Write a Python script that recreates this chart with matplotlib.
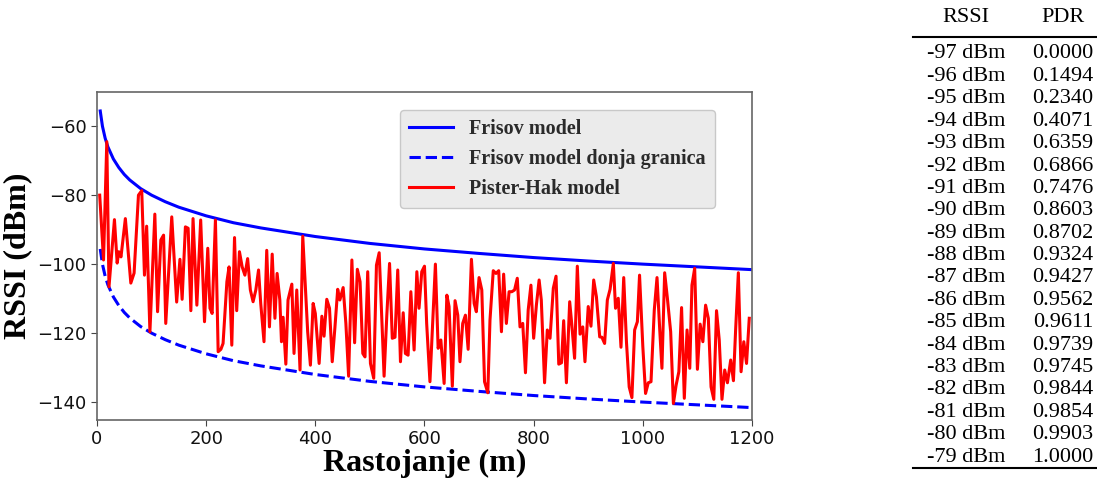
import numpy as np
import matplotlib
matplotlib.use("Agg")
import matplotlib.pyplot as plt

# Friis model
friis_dist = [6, 10, 15, 20, 30, 40, 50, 60, 80, 100, 125, 150, 200, 250, 300,
              400, 500, 600, 700, 800, 900, 1000, 1100, 1200]
friis_rssi = [-55.6, -60.0, -63.5, -66.0, -69.5, -72.0, -74.0, -75.6, -78.1, -80.0,
              -81.9, -83.5, -86.0, -88.0, -89.5, -92.0, -94.0, -95.6, -96.9, -98.1,
              -99.1, -100.0, -100.8, -101.6]
friis_low = [-95.6, -100.0, -103.5, -106.0, -109.5, -112.0, -114.0, -115.6, -118.1, -120.0,
             -121.9, -123.5, -126.0, -128.0, -129.5, -132.0, -134.0, -135.6, -136.9, -138.1,
             -139.1, -140.0, -140.8, -141.6]

# Pister-Hack model (noisy)
ph_dist = [5, 12, 18, 22, 32, 37, 40, 44, 52, 62, 68, 76, 82, 87, 91, 97, 106, 111, 117, 122,
           126, 137, 146, 152, 156, 162, 167, 172, 176, 183, 190, 197,
           203, 207, 211, 217, 222, 227, 231, 238, 242, 247, 252, 256, 261, 266, 271, 276,
           281, 286, 291, 296, 300, 306, 311, 316, 321, 326, 330, 335, 338, 341, 346, 350,
           357, 361, 366, 372, 377, 382, 386, 391, 396, 400,
           407, 412, 416, 421, 426, 431, 436, 441, 445, 451, 456, 461, 467, 472, 477, 482,
           487, 491, 496, 501, 507, 512, 517, 521, 526, 531, 536, 541, 546, 551, 556, 561,
           565, 570, 575, 581, 586, 590, 595, 600, 604,
           610, 620, 625, 630, 636, 641, 645, 651, 656, 661, 665, 670, 675, 680, 686, 691,
           695, 700, 705, 710, 716, 720, 726, 731, 736, 741, 745, 750, 755, 760, 765, 770,
           775, 780, 785, 790, 795, 800, 805,
           810, 814, 820, 825, 830, 836, 841, 846, 851, 855, 860, 866, 870, 875, 880, 885,
           890, 894, 900, 905, 910, 915, 921, 925, 930, 935, 940, 946, 950, 955, 960, 965,
           970, 975, 980, 985, 990, 994, 1000, 1005,
           1010, 1015, 1021, 1026, 1031, 1035, 1040, 1045, 1051, 1056, 1061, 1066, 1071,
           1076, 1081, 1086, 1090, 1095, 1100, 1105, 1110, 1115, 1120, 1125, 1130, 1135,
           1140, 1145, 1150, 1155, 1161, 1166, 1170, 1175, 1180, 1185, 1190, 1195]
ph_rssi = [-80.0, -98.8, -64.5, -106.6, -87.1, -99.7, -96.4, -97.9, -86.8, -105.5, -102.6,
           -80.0, -78.7, -103.2, -89.0, -119.6, -85.5, -113.8, -93.0, -91.6,
           -117.2, -86.3, -111.0, -98.6, -110.2, -89.2, -89.6, -113.5, -86.8, -111.9, -87.2, -116.7,
           -95.4, -112.8, -114.3, -87.2, -125.4, -124.7, -123.0, -105.1, -100.8, -123.5, -92.3,
           -113.5, -96.4, -100.8, -103.2, -98.4,
           -107.5, -110.9, -107.5, -101.7, -111.4, -122.5, -96.0, -118.2, -97.1, -115.7, -102.7,
           -110.4, -122.5, -115.4, -129.0, -110.4,
           -105.8, -125.9, -107.5, -130.7, -91.9, -107.5, -119.6, -129.3, -111.4, -114.3,
           -128.8, -115.1, -120.9, -110.2, -112.8, -128.3, -118.2, -107.3, -110.4, -106.8, -117.2,
           -132.5, -98.8, -122.8, -101.5, -105.1,
           -125.9, -126.9, -102.2, -128.8, -133.1, -100.3, -96.7, -112.3, -132.5, -114.8, -99.8,
           -121.5, -121.2, -101.7, -128.3, -114.1,
           -125.9, -126.4, -108.0, -124.9, -102.2, -112.8, -102.2, -100.6, -117.2,
           -134.1, -100.0, -124.4, -122.0, -134.6, -109.0, -112.3, -135.4, -110.6, -114.8, -128.3,
           -117.2, -114.8, -124.7, -98.6, -111.4,
           -113.8, -103.9, -107.5, -134.1, -137.3, -116.2, -101.9, -102.7, -101.9, -119.6, -102.9,
           -117.2, -108.0, -108.0, -107.5, -104.1,
           -118.2, -117.2, -131.5, -113.3, -106.1, -121.5, -111.9,
           -104.6, -110.4, -134.4, -119.1, -121.5, -107.0, -103.5, -129.0, -128.6, -116.4, -134.4,
           -110.9, -117.7, -127.3, -100.6, -120.3,
           -118.2, -128.3, -112.3, -118.0, -104.6, -109.5, -121.1, -121.2, -123.0, -110.4, -107.3,
           -99.8, -112.8, -109.9, -124.1, -103.9,
           -122.5, -135.6, -138.7, -119.1, -116.7, -103.2, -123.9, -137.5,
           -134.4, -134.1, -113.3, -103.9, -119.1, -130.2, -102.5, -109.9, -119.6, -140.4, -135.1,
           -131.2, -112.6,
           -138.9, -119.1, -130.2, -106.1, -101.2, -130.5, -117.4, -122.5, -111.9, -115.7, -135.6,
           -139.2, -113.5,
           -122.0, -139.2, -130.7, -134.4, -127.8, -133.8, -119.1, -102.5, -131.2, -122.5, -128.8,
           -115.7]

# PDR table
table_rssi = ["-97 dBm", "-96 dBm", "-95 dBm", "-94 dBm", "-93 dBm", "-92 dBm", "-91 dBm",
              "-90 dBm", "-89 dBm", "-88 dBm", "-87 dBm", "-86 dBm", "-85 dBm", "-84 dBm",
              "-83 dBm", "-82 dBm", "-81 dBm", "-80 dBm", "-79 dBm"]
table_pdr = ["0.0000", "0.1494", "0.2340", "0.4071", "0.6359", "0.6866", "0.7476", "0.8603",
             "0.8702", "0.9324", "0.9427", "0.9562", "0.9611", "0.9739", "0.9745", "0.9844",
             "0.9854", "0.9903", "1.0000"]

serif = "Liberation Serif"

fig = plt.figure(figsize=(10.97, 4.78), dpi=100)
ax = fig.add_axes([0.0884, 0.1213, 0.5971, 0.6862])

ax.plot(friis_dist, friis_rssi, color="#0000ff", lw=2.2, label="Frisov model")
ax.plot(friis_dist, friis_low, color="#0000ff", lw=2.2, ls="--", label="Frisov model donja granica")
ax.plot(ph_dist, ph_rssi, color="#ff0000", lw=2.2, label="Pister-Hak model")

ax.set_xlim(0, 1200)
ax.set_ylim(-145.2, -50.1)
ax.set_xticks([0, 200, 400, 600, 800, 1000, 1200])
ax.set_yticks([-60, -80, -100, -120, -140])
ax.tick_params(labelsize=13, colors="#444444", labelcolor="#111111", length=4)
for s in ax.spines.values():
    s.set_color("#666666")
    s.set_linewidth(1.2)

ax.set_xlabel("Rastojanje (m)", fontfamily=serif, fontweight="bold", fontsize=23, labelpad=0)
ax.set_ylabel("RSSI (dBm)", fontfamily=serif, fontweight="bold", fontsize=23, labelpad=4)

leg = ax.legend(loc="upper right", bbox_to_anchor=(0.959, 0.976),
                prop={"family": serif, "weight": "bold", "size": 14.5},
                facecolor="#ebebeb", edgecolor="#c8c8c8", framealpha=1, fancybox=True,
                handlelength=2.2, labelspacing=0.5, borderpad=0.45)
for t in leg.get_texts():
    t.set_color("#2a2a2a")

# table on the right, booktabs style
x_left, x_right = 913 / 1097, 1.0
col1, col2 = 966 / 1097, 1063 / 1097
fig.text(col1, 1 - 18 / 478, "RSSI", ha="center", va="center", family=serif, fontsize=16)
fig.text(col2, 1 - 18 / 478, "PDR", ha="center", va="center", family=serif, fontsize=16)
fig.add_artist(plt.Line2D([x_left, x_right], [1 - 37 / 478] * 2, color="black", lw=1.5))
for i, (r, p) in enumerate(zip(table_rssi, table_pdr)):
    y = 1 - (54 + i * 22.4) / 478
    fig.text(col1, y, r, ha="center", va="center", family=serif, fontsize=16)
    fig.text(col2, y, p, ha="center", va="center", family=serif, fontsize=16)
fig.add_artist(plt.Line2D([x_left, x_right], [1 - 468 / 478] * 2, color="black", lw=1.5))

fig.savefig("out.png", dpi=100)
